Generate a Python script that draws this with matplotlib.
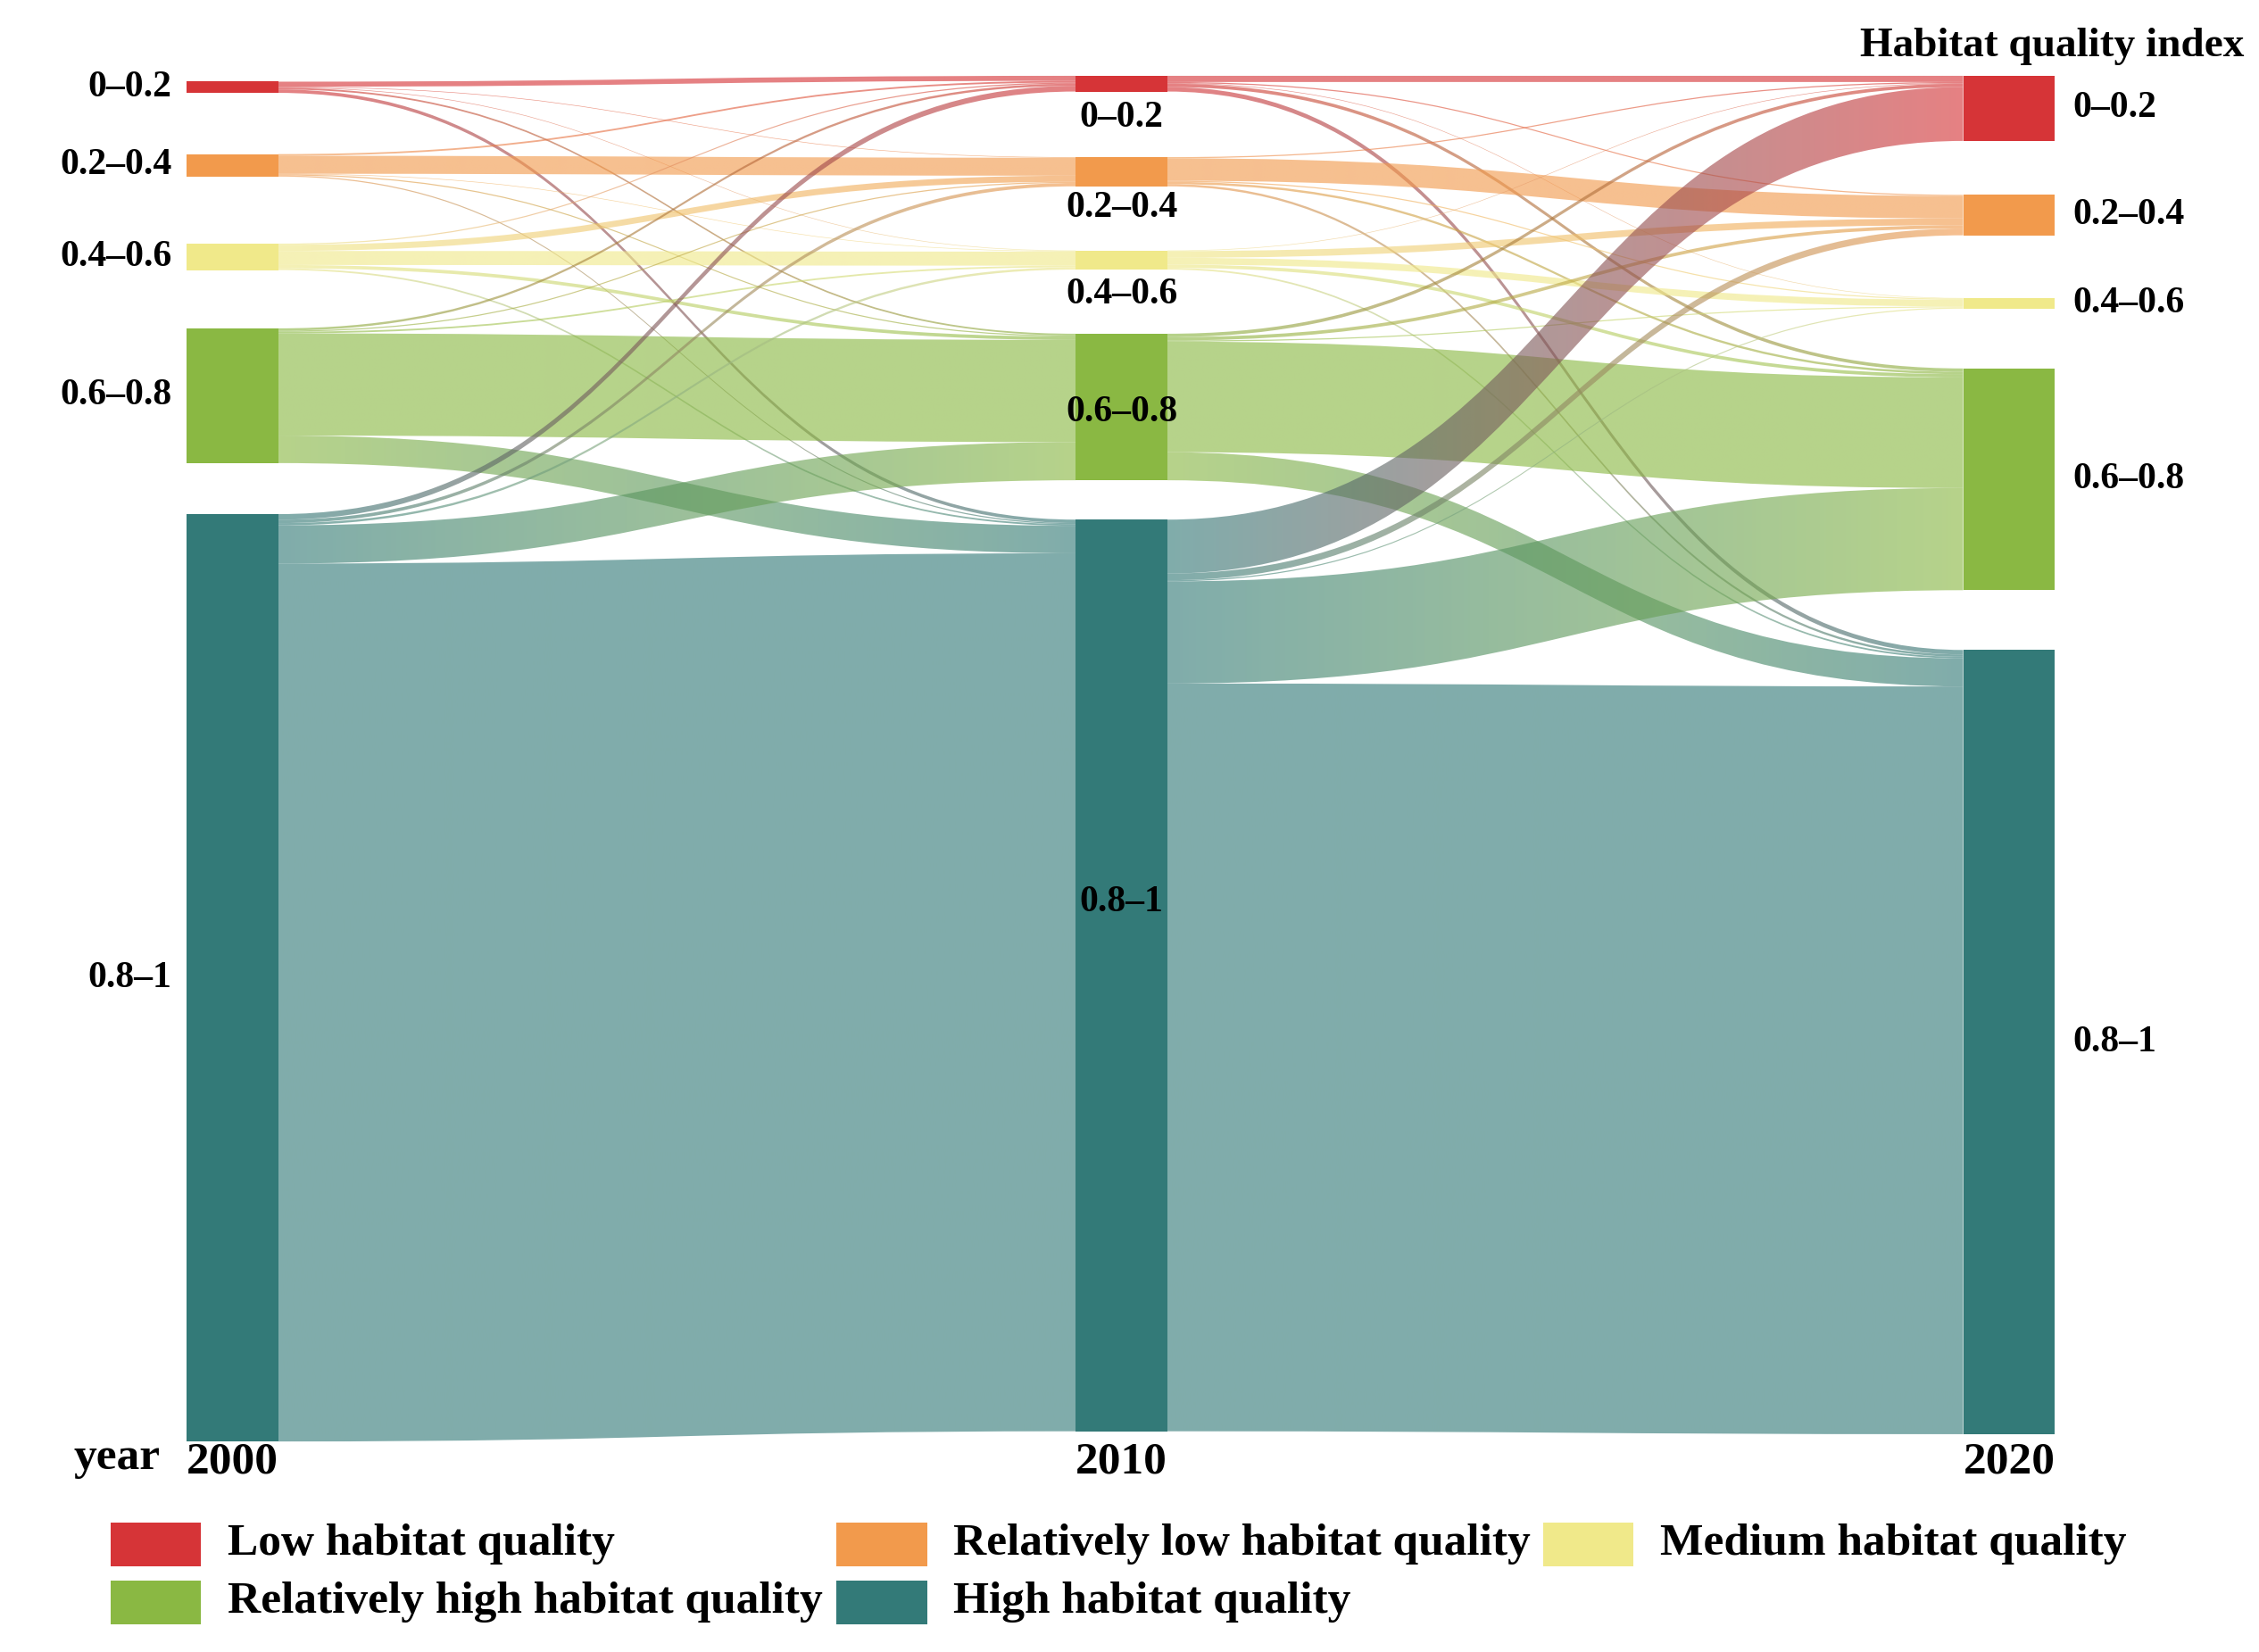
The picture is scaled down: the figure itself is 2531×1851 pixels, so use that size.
import matplotlib.pyplot as plt
import numpy as np
from matplotlib.path import Path
from matplotlib.patches import PathPatch, Rectangle
from matplotlib.colors import to_rgb

# ---- data (share of area, %) ----
years = ["2000", "2010", "2020"]
classes = ["0–0.2", "0.2–0.4", "0.4–0.6", "0.6–0.8", "0.8–1"]
class_names = ["Low habitat quality", "Relatively low habitat quality",
               "Medium habitat quality", "Relatively high habitat quality",
               "High habitat quality"]
class_colors = ["#D63437", "#F29A4C", "#F0E98A", "#8AB843", "#337A78"]

# rows: source class, columns: target class
flows_2000_2010 = [
    [0.45, 0.05, 0.05, 0.15, 0.30],
    [0.15, 1.60, 0.05, 0.10, 0.10],
    [0.10, 0.55, 1.25, 0.30, 0.15],
    [0.20, 0.10, 0.15, 9.10, 2.45],
    [0.50, 0.30, 0.20, 3.40, 78.20],
]
flows_2010_2020 = [
    [0.55, 0.10, 0.05, 0.30, 0.40],
    [0.10, 2.00, 0.10, 0.20, 0.20],
    [0.05, 0.60, 0.60, 0.30, 0.15],
    [0.30, 0.30, 0.10, 9.85, 2.50],
    [4.80, 0.60, 0.10, 9.10, 66.60],
]

# ---- layout (canvas units, 1550 x 1133) ----
W, H = 1550, 1133
col_x = [128, 738, 1347]
node_w = 63
col_top = [56, 52, 52]
col_gaps = [[42, 46, 40, 35], [45, 44, 44, 27], [37, 43, 41, 41]]
k = 7.7  # canvas units per percent
link_alpha = 0.62

fig = plt.figure(figsize=(25.31, 18.51), dpi=100)
ax = fig.add_axes([0, 0, 1, 1])
ax.set_xlim(0, W)
ax.set_ylim(H, 0)
ax.set_autoscale_on(False)
ax.axis("off")

font = "Liberation Serif"

flows = [np.array(flows_2000_2010), np.array(flows_2010_2020)]
n = len(classes)

# node values = max(inflow, outflow)
node_vals = []
for c in range(3):
    inflow = flows[c - 1].sum(axis=0) if c > 0 else np.zeros(n)
    outflow = flows[c].sum(axis=1) if c < 2 else np.zeros(n)
    node_vals.append(np.maximum(inflow, outflow))

node_top = []
for c in range(3):
    tops = []
    y = col_top[c]
    for i in range(n):
        tops.append(y)
        y += node_vals[c][i] * k
        if i < n - 1:
            y += col_gaps[c][i]
    node_top.append(tops)

# links with gradient fill
for c in range(2):
    x0 = col_x[c] + node_w
    x1 = col_x[c + 1]
    xm = (x0 + x1) / 2
    out_off = [node_top[c][i] for i in range(n)]
    in_off = [node_top[c + 1][j] for j in range(n)]
    src_pos = {}
    tgt_pos = {}
    for i in range(n):
        for j in range(n):
            h = flows[c][i, j] * k
            src_pos[(i, j)] = (out_off[i], out_off[i] + h)
            out_off[i] += h
    for j in range(n):
        for i in range(n):
            h = flows[c][i, j] * k
            tgt_pos[(i, j)] = (in_off[j], in_off[j] + h)
            in_off[j] += h
    for i in range(n):
        for j in range(n):
            if flows[c][i, j] <= 0:
                continue
            s0, s1 = src_pos[(i, j)]
            t0, t1 = tgt_pos[(i, j)]
            verts = [(x0, s0), (xm, s0), (xm, t0), (x1, t0),
                     (x1, t1), (xm, t1), (xm, s1), (x0, s1), (x0, s0)]
            codes = [Path.MOVETO, Path.CURVE4, Path.CURVE4, Path.CURVE4,
                     Path.LINETO, Path.CURVE4, Path.CURVE4, Path.CURVE4,
                     Path.CLOSEPOLY]
            patch = PathPatch(Path(verts, codes), facecolor="none",
                              edgecolor="none")
            ax.add_patch(patch)
            ca = np.array(to_rgb(class_colors[i]))
            cb = np.array(to_rgb(class_colors[j]))
            t = np.linspace(0, 1, 128)[:, None]
            grad = np.ones((1, 128, 4))
            grad[0, :, :3] = ca * (1 - t) + cb * t
            grad[0, :, 3] = link_alpha
            ymin = min(s0, t0) - 1
            ymax = max(s1, t1) + 1
            im = ax.imshow(grad, extent=(x0, x1, ymax, ymin), aspect="auto",
                           interpolation="bilinear", zorder=1)
            im.set_clip_path(patch)

# nodes
for c in range(3):
    for i in range(n):
        ax.add_patch(Rectangle((col_x[c], node_top[c][i]), node_w,
                               node_vals[c][i] * k, facecolor=class_colors[i],
                               edgecolor="none", zorder=3))

# node labels
label_fs = 30
mid_offsets = [23.5, 25, 23.5, 3.5, -50]
for i in range(n):
    # 2000: left of nodes
    yc = node_top[0][i] + node_vals[0][i] * k / 2
    ax.text(col_x[0] - 10, yc, classes[i], ha="right", va="center",
            fontsize=label_fs, fontweight="bold", family=font, zorder=5)
    # 2010: on / below nodes
    yc = node_top[1][i] + node_vals[1][i] * k / 2 + mid_offsets[i]
    ax.text(col_x[1] + node_w / 2, yc, classes[i], ha="center", va="center",
            fontsize=label_fs, fontweight="bold", family=font, zorder=5)
    # 2020: right of nodes
    yc = node_top[2][i] + node_vals[2][i] * k / 2
    ax.text(col_x[2] + node_w + 12, yc, classes[i], ha="left", va="center",
            fontsize=label_fs, fontweight="bold", family=font, zorder=5)

ax.text(1540, 32, "Habitat quality index", ha="right", va="center",
        fontsize=34, fontweight="bold", family=font)

# year axis labels
for c in range(3):
    ax.text(col_x[c] + node_w / 2, 1003, years[c], ha="center", va="center",
            fontsize=37, fontweight="bold", family=font)
ax.text(110, 1000, "year", ha="right", va="center",
        fontsize=37, fontweight="bold", family=font)

# legend
leg_x = [76, 574, 1059]
leg_y = [1059, 1099]
for idx, (name, col) in enumerate(zip(class_names, class_colors)):
    r, cc = divmod(idx, 3)
    ax.add_patch(Rectangle((leg_x[cc], leg_y[r] - 15), 62, 30,
                           facecolor=col, edgecolor="none"))
    ax.text(leg_x[cc] + 80, leg_y[r], name, ha="left", va="center",
            fontsize=37, fontweight="bold", family=font)

fig.savefig("out.png", dpi=100)
